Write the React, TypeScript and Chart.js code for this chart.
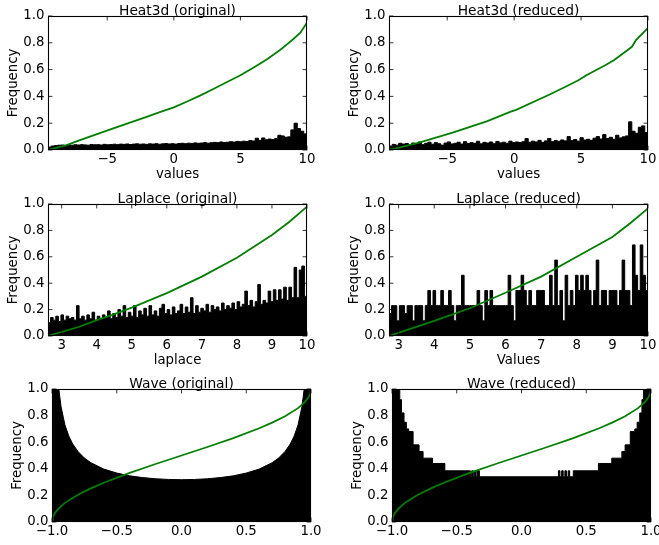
import React, { useEffect, useRef } from 'react';
import { Chart, registerables } from 'chart.js';

Chart.register(...registerables);

const W = 659;
const H = 545;
const FONT_FAMILY = "'DejaVu Sans'";
const FONT_SIZE = 13.3;
const TITLE_SIZE = 13.8;
const GREEN = 'rgb(0,128,0)';

Chart.defaults.font.family = FONT_FAMILY;
Chart.defaults.font.size = FONT_SIZE;
Chart.defaults.color = '#000';

// ---------- tick values / labels ----------
const yTicks = [0, 0.2, 0.4, 0.6, 0.8, 1.0];
const yTickLabels = ['0.0', '0.2', '0.4', '0.6', '0.8', '1.0'];
const heatTicks = [-5, 0, 5, 10];
const heatTickLabels = ['\u22125', '0', '5', '10'];
const laplaceTicks = [3, 4, 5, 6, 7, 8, 9, 10];
const laplaceTickLabels = ['3', '4', '5', '6', '7', '8', '9', '10'];
const waveTicks = [-1, -0.5, 0, 0.5, 1];
const waveTickLabels = ['\u22121.0', '\u22120.5', '0.0', '0.5', '1.0'];

// ---------- Heat3d (original) ----------
const heatOrigRange = [-9.45, 10];
const heatOrigHist = [
  0.022, 0.03, 0.033, 0.036, 0.037, 0.035, 0.038, 0.036, 0.039, 0.037,
  0.04, 0.038, 0.036, 0.041, 0.039, 0.04, 0.037, 0.042, 0.039, 0.041,
  0.043, 0.04, 0.044, 0.042, 0.045, 0.041, 0.044, 0.046, 0.043, 0.045,
  0.042, 0.046, 0.044, 0.047, 0.043, 0.046, 0.048, 0.045, 0.047, 0.044,
  0.048, 0.05, 0.047, 0.051, 0.049, 0.053, 0.05, 0.052, 0.055, 0.051,
  0.054, 0.057, 0.055, 0.06, 0.056, 0.058, 0.062, 0.059, 0.064, 0.061,
  0.066, 0.063, 0.07, 0.067, 0.088, 0.072, 0.09, 0.076, 0.082, 0.078,
  0.086, 0.11, 0.105, 0.095, 0.098, 0.15, 0.2, 0.16, 0.14, 0.12,
];
const heatOrigCdfX = [-9.45, -8.1, -7.1, -4.6, -2.1, -1.0, 0, 1, 2, 3, 4, 5, 6, 7, 8, 8.5, 9, 9.5, 10, 10];
const heatOrigCdfY = [0, 0.035, 0.072, 0.16, 0.246, 0.284, 0.318, 0.362, 0.408, 0.457, 0.508, 0.558, 0.615, 0.678, 0.748, 0.788, 0.83, 0.875, 0.95, 0];

// ---------- Heat3d (reduced) ----------
const heatRedRange = [-9.35, 10];
const heatRedHist = [
  0.03, 0.042, 0.036, 0.05, 0.044, 0.048, 0.038, 0.052, 0.045, 0.06,
  0.04, 0.05, 0.058, 0.043, 0.055, 0.047, 0.036, 0.052, 0.06, 0.045,
  0.05, 0.058, 0.044, 0.062, 0.048, 0.055, 0.05, 0.065, 0.046, 0.057,
  0.052, 0.06, 0.047, 0.064, 0.053, 0.058, 0.05, 0.066, 0.055, 0.06,
  0.056, 0.062, 0.085, 0.058, 0.066, 0.06, 0.072, 0.057, 0.068, 0.086,
  0.062, 0.07, 0.065, 0.075, 0.068, 0.1, 0.07, 0.078, 0.066, 0.092,
  0.074, 0.08, 0.072, 0.088, 0.1, 0.082, 0.115, 0.085, 0.095, 0.08,
  0.11, 0.09, 0.098, 0.105, 0.21, 0.14, 0.125, 0.17, 0.18, 0.13,
];
const heatRedCdfX = [-9.35, -8.5, -7.1, -4.6, -2.05, -0.3, 0.15, 2.65, 3.8, 4.8, 5.4, 6.8, 7.45, 8.8, 9.1, 10, 10];
const heatRedCdfY = [0, 0.02, 0.055, 0.13, 0.214, 0.284, 0.3, 0.414, 0.47, 0.52, 0.558, 0.633, 0.67, 0.77, 0.82, 0.91, 0];

// ---------- Laplace (original) ----------
const lapOrigRange = [2.61, 10];
const lapOrigHist = [
  0.1, 0.14, 0.12, 0.15, 0.11, 0.16, 0.12, 0.15, 0.13, 0.14,
  0.12, 0.23, 0.13, 0.15, 0.12, 0.16, 0.13, 0.18, 0.12, 0.15,
  0.13, 0.16, 0.14, 0.19, 0.13, 0.17, 0.14, 0.2, 0.15, 0.23,
  0.14, 0.18, 0.15, 0.23, 0.14, 0.19, 0.16, 0.21, 0.15, 0.23,
  0.16, 0.19, 0.15, 0.21, 0.24, 0.17, 0.2, 0.16, 0.22, 0.17,
  0.19, 0.24, 0.17, 0.22, 0.18, 0.29, 0.17, 0.23, 0.18, 0.21,
  0.19, 0.24, 0.18, 0.23, 0.2, 0.22, 0.19, 0.25, 0.2, 0.23,
  0.21, 0.25, 0.2, 0.26, 0.22, 0.24, 0.34, 0.23, 0.27, 0.22,
  0.26, 0.39, 0.24, 0.27, 0.25, 0.34, 0.26, 0.35, 0.27, 0.35,
  0.28, 0.37, 0.27, 0.37, 0.29, 0.52, 0.29, 0.5, 0.53, 0.3,
];
const lapOrigCdfX = [2.61, 3.5, 4.0, 4.45, 5.0, 6.0, 7.0, 8.0, 9.0, 9.5, 10, 10];
const lapOrigCdfY = [0, 0.07, 0.12, 0.16, 0.215, 0.325, 0.45, 0.593, 0.765, 0.866, 0.98, 0];

// ---------- Laplace (reduced) ----------
const lapRedRange = [2.73, 10];
const lapRedHist = [
  0.17, 0.23, 0.23, 0.115, 0.23, 0.23, 0.17, 0.23, 0.23, 0.115,
  0.23, 0.23, 0.23, 0.115, 0.23, 0.345, 0.23, 0.345, 0.23, 0.23,
  0.345, 0.23, 0.23, 0.345, 0.23, 0.115, 0.23, 0.23, 0.46, 0.23,
  0.23, 0.23, 0.23, 0.23, 0.345, 0.23, 0.115, 0.345, 0.23, 0.345,
  0.23, 0.23, 0.23, 0.23, 0.23, 0.23, 0.46, 0.23, 0.115, 0.345,
  0.345, 0.46, 0.345, 0.23, 0.345, 0.23, 0.23, 0.345, 0.345, 0.345,
  0.23, 0.23, 0.46, 0.23, 0.575, 0.23, 0.345, 0.115, 0.46, 0.23,
  0.345, 0.23, 0.46, 0.345, 0.46, 0.345, 0.46, 0.345, 0.23, 0.345,
  0.575, 0.23, 0.345, 0.345, 0.23, 0.345, 0.345, 0.345, 0.23, 0.345,
  0.575, 0.345, 0.345, 0.23, 0.69, 0.46, 0.345, 0.69, 0.46, 0.345,
];
const lapRedCdfX = [2.73, 4.0, 5.0, 6.0, 7.0, 8.0, 9.0, 9.5, 10, 10];
const lapRedCdfY = [0, 0.114, 0.21, 0.328, 0.45, 0.6, 0.75, 0.854, 0.967, 0];

// ---------- Wave (original) ----------
const waveOrigX = [-1, -0.97, -0.95, -0.93, -0.9, -0.87, -0.84, -0.8, -0.75, -0.7, -0.6, -0.5, -0.4, -0.3, -0.2, -0.1, 0,
  0.1, 0.2, 0.3, 0.4, 0.5, 0.6, 0.7, 0.75, 0.8, 0.84, 0.87, 0.9, 0.93, 0.95, 0.97, 1];
const waveOrigY = [2.0, 1.31, 1.02, 0.866, 0.73, 0.646, 0.587, 0.531, 0.481, 0.446, 0.398, 0.368, 0.347, 0.334, 0.325, 0.32, 0.318,
  0.32, 0.325, 0.334, 0.347, 0.368, 0.398, 0.446, 0.481, 0.531, 0.587, 0.646, 0.73, 0.866, 1.02, 1.31, 2.0];

// ---------- Wave (reduced): bin left edges and heights ----------
const waveRedEdges = [-1, -0.94, -0.927, -0.907, -0.889, -0.871, -0.837, -0.791, -0.76, -0.687,
  -0.592, -0.395, -0.385, -0.372, -0.362, -0.35, -0.34, -0.325,
  0.285, 0.297, 0.31, 0.322, 0.335, 0.347, 0.36, 0.372, 0.4,
  0.594, 0.697, 0.775, 0.8, 0.84, 0.875, 0.893, 0.913, 0.93, 0.943];
const waveRedLevels = [1.5, 0.92, 0.82, 0.75, 0.7, 0.68, 0.58, 0.53, 0.48, 0.44,
  0.385, 0.34, 0.385, 0.34, 0.385, 0.34, 0.385, 0.34,
  0.385, 0.34, 0.385, 0.34, 0.385, 0.34, 0.385, 0.34, 0.385,
  0.44, 0.48, 0.53, 0.58, 0.68, 0.7, 0.75, 0.82, 0.92, 1.5];
const waveRange = [-1, 1];

// ---------- Wave CDF ----------
const waveCdfX = [-1, -0.995, -0.98, -0.95, -0.9, -0.8, -0.7, -0.6, -0.4, -0.2, 0, 0.2, 0.4, 0.6, 0.7, 0.8, 0.9, 0.95, 0.98, 0.995, 1, 1];
const waveCdfY = [0, 0.032, 0.064, 0.1, 0.144, 0.205, 0.253, 0.295, 0.369, 0.436, 0.5, 0.564, 0.631, 0.705, 0.747, 0.795, 0.856, 0.9, 0.936, 0.968, 1.0, 0];

// ---------- helpers ----------
type Pt = { x: number; y: number };
const zip = (xs: number[], ys: number[]): Pt[] => xs.map((x, i) => ({ x, y: ys[i] }));
function uniformHist(range: number[], heights: number[]): Pt[] {
  const [a, b] = range;
  const w = (b - a) / heights.length;
  const pts = heights.map((h, i) => ({ x: a + i * w, y: h }));
  pts.push({ x: b, y: heights[heights.length - 1] });
  return pts;
}
function edgeHist(edges: number[], levels: number[], end: number): Pt[] {
  const pts = zip(edges, levels);
  pts.push({ x: end, y: levels[levels.length - 1] });
  return pts;
}

type Spec = {
  title: string;
  xLabel?: string;
  xRange: number[];
  xTicks: number[];
  xTickLabels: string[];
  hist: Pt[];
  stepped: boolean;
  cdf: Pt[];
  pad: { left: number; top: number; right: number; bottom: number };
  xAxisHeight: number;
};

const specs: Spec[] = [
  {
    title: 'Heat3d (original)', xLabel: 'values', xRange: heatOrigRange, xTicks: heatTicks, xTickLabels: heatTickLabels,
    hist: uniformHist(heatOrigRange, heatOrigHist), stepped: true, cdf: zip(heatOrigCdfX, heatOrigCdfY),
    pad: { left: 6, top: 3.5, right: 352, bottom: 362 }, xAxisHeight: 33,
  },
  {
    title: 'Heat3d (reduced)', xLabel: 'values', xRange: heatRedRange, xTicks: heatTicks, xTickLabels: heatTickLabels,
    hist: uniformHist(heatRedRange, heatRedHist), stepped: true, cdf: zip(heatRedCdfX, heatRedCdfY),
    pad: { left: 347, top: 3.5, right: 11, bottom: 362 }, xAxisHeight: 33,
  },
  {
    title: 'Laplace (original)', xLabel: 'laplace', xRange: lapOrigRange, xTicks: laplaceTicks, xTickLabels: laplaceTickLabels,
    hist: uniformHist(lapOrigRange, lapOrigHist), stepped: true, cdf: zip(lapOrigCdfX, lapOrigCdfY),
    pad: { left: 6, top: 191.5, right: 352, bottom: 176 }, xAxisHeight: 33,
  },
  {
    title: 'Laplace (reduced)', xLabel: 'Values', xRange: lapRedRange, xTicks: laplaceTicks, xTickLabels: laplaceTickLabels,
    hist: uniformHist(lapRedRange, lapRedHist), stepped: true, cdf: zip(lapRedCdfX, lapRedCdfY),
    pad: { left: 347, top: 191.5, right: 11, bottom: 176 }, xAxisHeight: 33,
  },
  {
    title: 'Wave (original)', xRange: waveRange, xTicks: waveTicks, xTickLabels: waveTickLabels,
    hist: zip(waveOrigX, waveOrigY), stepped: false, cdf: zip(waveCdfX, waveCdfY),
    pad: { left: 10, top: 376.5, right: 348, bottom: 0 }, xAxisHeight: 23,
  },
  {
    title: 'Wave (reduced)', xRange: waveRange, xTicks: waveTicks, xTickLabels: waveTickLabels,
    hist: edgeHist(waveRedEdges, waveRedLevels, waveRange[1]), stepped: true, cdf: zip(waveCdfX, waveCdfY),
    pad: { left: 350, top: 376.5, right: 8, bottom: 0 }, xAxisHeight: 23,
  },
];

const framePlugin = {
  id: 'frame',
  afterDraw(chart: any) {
    const { ctx, chartArea: a, scales } = chart;
    const TL = 4.4;
    ctx.save();
    ctx.strokeStyle = '#000';
    ctx.lineWidth = 0.8;
    ctx.beginPath();
    scales.x.ticks.forEach((t: any) => {
      const p = scales.x.getPixelForValue(t.value);
      ctx.moveTo(p, a.bottom);
      ctx.lineTo(p, a.bottom - TL);
      ctx.moveTo(p, a.top);
      ctx.lineTo(p, a.top + TL);
    });
    scales.y.ticks.forEach((t: any) => {
      const p = scales.y.getPixelForValue(t.value);
      ctx.moveTo(a.left, p);
      ctx.lineTo(a.left + TL, p);
      ctx.moveTo(a.right, p);
      ctx.lineTo(a.right - TL, p);
    });
    ctx.stroke();
    ctx.lineWidth = 1.1;
    ctx.strokeRect(a.left + 0.5, a.top + 0.5, a.right - a.left - 1, a.bottom - a.top - 1);
    ctx.restore();
  },
};

function buildConfig(spec: Spec): any {
  const font = { family: FONT_FAMILY, size: FONT_SIZE };
  return {
    type: 'line',
    data: {
      datasets: [
        {
          data: spec.cdf, borderColor: GREEN, borderWidth: 1.8, pointRadius: 0,
          fill: false, tension: 0, order: 0,
        },
        {
          data: spec.hist, borderColor: '#000', backgroundColor: '#000', borderWidth: 1,
          pointRadius: 0, fill: 'origin', stepped: spec.stepped ? 'before' : false, tension: 0, order: 1,
        },
      ],
    },
    options: {
      responsive: false,
      animation: false,
      devicePixelRatio: 1,
      events: [],
      layout: { padding: spec.pad },
      plugins: {
        legend: { display: false },
        tooltip: { enabled: false },
        title: {
          display: true, text: spec.title, color: '#000', fullSize: false,
          font: { family: FONT_FAMILY, size: TITLE_SIZE, weight: 'normal', lineHeight: '16px' },
          padding: { top: 0, bottom: -3.5 },
        },
      },
      scales: {
        x: {
          type: 'linear', min: spec.xRange[0], max: spec.xRange[1],
          afterBuildTicks: (s: any) => { s.ticks = spec.xTicks.map((v) => ({ value: v })); },
          ticks: {
            autoSkip: false, maxRotation: 0, minRotation: 0, padding: 1.5, color: '#000', font,
            callback: (_v: any, i: number) => spec.xTickLabels[i],
          },
          grid: { display: false, drawTicks: false },
          border: { display: false },
          title: { display: !!spec.xLabel, text: spec.xLabel || '', color: '#000', padding: 0, font },
          afterFit: (s: any) => {
            s.height = spec.xAxisHeight;
            s.paddingLeft = 0; s.paddingRight = 0; s.paddingTop = 0; s.paddingBottom = 0;
          },
        },
        y: {
          type: 'linear', min: 0, max: 1,
          afterBuildTicks: (s: any) => { s.ticks = yTicks.map((v) => ({ value: v })); },
          ticks: {
            autoSkip: false, padding: 3.5, color: '#000', font,
            callback: (_v: any, i: number) => yTickLabels[i],
          },
          grid: { display: false, drawTicks: false },
          border: { display: false },
          title: { display: true, text: 'Frequency', color: '#000', padding: 0, font },
          afterFit: (s: any) => {
            s.width = 42;
            s.paddingLeft = 0; s.paddingRight = 0; s.paddingTop = 0; s.paddingBottom = 0;
          },
        },
      },
    },
    plugins: [framePlugin],
  };
}

function Panel({ spec }: { spec: Spec }) {
  const ref = useRef<HTMLCanvasElement | null>(null);
  useEffect(() => {
    let chart: Chart | null = null;
    let alive = true;
    const make = () => {
      if (!alive || !ref.current) return;
      chart = new Chart(ref.current, buildConfig(spec));
    };
    const fonts: any = (document as any).fonts;
    if (fonts && fonts.load) {
      fonts.load(`${FONT_SIZE}px ${FONT_FAMILY}`).then(make, make);
    } else {
      make();
    }
    return () => {
      alive = false;
      if (chart) chart.destroy();
    };
  }, [spec]);
  return (
    <canvas
      ref={ref}
      width={W}
      height={H}
      style={{ position: 'absolute', left: 0, top: 0, width: W, height: H }}
    />
  );
}

export default function App() {
  return (
    <div style={{ position: 'fixed', left: 0, top: 0, width: W, height: H, overflow: 'hidden', background: '#fff' }}>
      <span style={{ position: 'absolute', left: -1000, top: 0, fontFamily: FONT_FAMILY, fontSize: FONT_SIZE }}>
        Frequency 0.123456789
      </span>
      {specs.map((s, i) => (
        <Panel key={i} spec={s} />
      ))}
    </div>
  );
}
